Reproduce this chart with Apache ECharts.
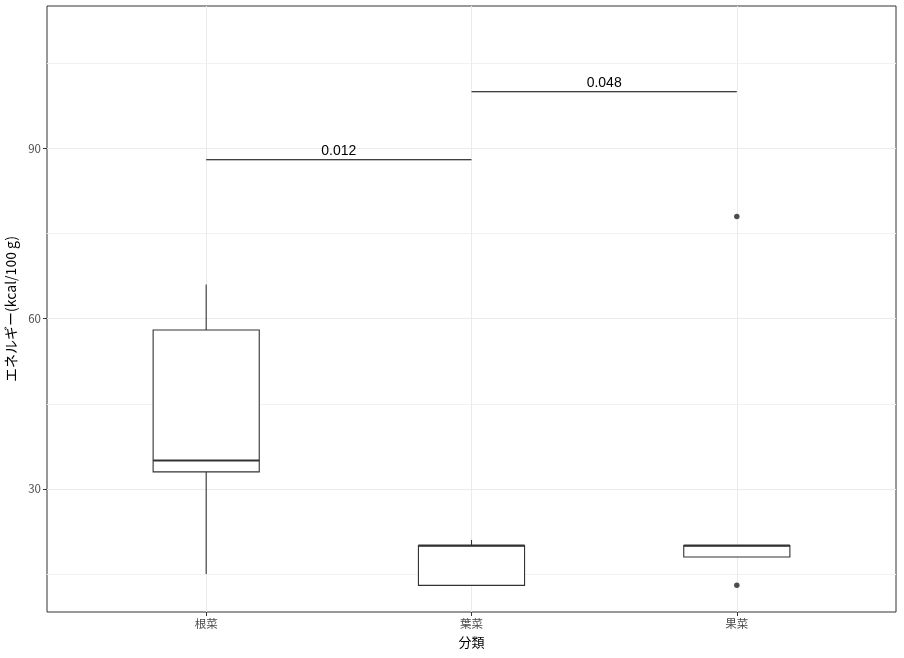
<!DOCTYPE html>
<html><head><meta charset="utf-8">
<script src="https://cdn.jsdelivr.net/npm/echarts@6/dist/echarts.min.js"></script>
<style>html,body{margin:0;padding:0;background:#fff}#c{width:904px;height:658px}</style>
</head><body><div id="c"></div>
<script>
// categories and box statistics
const categories = ['根菜', '葉菜', '果菜'];
const whiskerLow = [15, 13, 18];
const q1 = [33, 13, 18];
const median = [35, 20, 20];
const q3 = [58, 20, 20];
const whiskerHigh = [66, 21, 20];
// outliers [categoryIndex(1-based), value]
const outliers = [[3, 78], [3, 13]];
// significance brackets
const bracketFrom = [1, 2];
const bracketTo = [2, 3];
const bracketY = [88, 100];
const bracketLabel = ['0.012', '0.048'];
// ticks
const yMajorTicks = [30, 60, 90];
const yMinorTicks = [15, 45, 75, 105];
const xTicks = [1, 2, 3];

const boxData = categories.map((c, i) => [i + 1, whiskerLow[i], q1[i], median[i], q3[i], whiskerHigh[i]]);
const bracketData = bracketFrom.map((f, i) => [f, bracketTo[i], bracketY[i], bracketLabel[i]]);

const font = '"Noto Sans CJK JP", "Liberation Sans", sans-serif';
const chart = echarts.init(document.getElementById('c'), null, {renderer: 'canvas'});
const yMin = 8.3, yMax = 115.1;
chart.setOption({
  animation: false,
  grid: {left: 47, right: 8, top: 6, bottom: 46, containLabel: false, outerBoundsMode: 'none', show: true, borderColor: '#333333', borderWidth: 1, backgroundColor: '#fff'},
  xAxis: {
    type: 'value', min: 0.4, max: 3.6,
    name: '分類', nameLocation: 'middle', nameGap: 24,
    nameTextStyle: {color: '#000', fontSize: 13, fontFamily: font},
    axisLine: {show: false},
    axisTick: {show: true, length: 4, lineStyle: {color: '#333'}, customValues: xTicks},
    axisLabel: {show: true, customValues: xTicks, formatter: v => categories[Math.round(v) - 1] || '', color: '#4d4d4d', fontSize: 11.5, fontFamily: font, margin: 6},
    splitLine: {show: true, lineStyle: {color: '#ebebeb', width: 1}}
  },
  yAxis: [{
    type: 'value', min: yMin, max: yMax,
    name: 'エネルギー(kcal/100 g)', nameLocation: 'middle', nameGap: 26, nameRotate: 90,
    nameTextStyle: {color: '#000', fontSize: 14, fontFamily: font},
    axisLine: {show: false},
    axisTick: {show: true, length: 4, lineStyle: {color: '#333'}, customValues: yMajorTicks},
    axisLabel: {show: true, customValues: yMajorTicks, color: '#4d4d4d', fontSize: 11.5, fontFamily: font, margin: 6},
    splitLine: {show: true, lineStyle: {color: '#ebebeb', width: 1}}
  }, {
    type: 'value', min: yMin, max: yMax, position: 'left',
    axisLine: {show: false},
    axisTick: {show: false, customValues: yMinorTicks},
    axisLabel: {show: false, customValues: yMinorTicks},
    splitLine: {show: true, lineStyle: {color: '#f2f2f2', width: 1}}
  }],
  series: [{
    type: 'custom',
    data: boxData,
    z: 3,
    renderItem: function (params, api) {
      const x = api.value(0);
      const hw = 0.2;
      const pL = api.coord([x - hw, api.value(2)]);
      const pR = api.coord([x + hw, api.value(4)]);
      const lo = api.coord([x, api.value(1)]);
      const b1 = api.coord([x, api.value(2)]);
      const b3 = api.coord([x, api.value(4)]);
      const hi = api.coord([x, api.value(5)]);
      const mdL = api.coord([x - hw, api.value(3)]);
      const mdR = api.coord([x + hw, api.value(3)]);
      const st = {stroke: '#333333', lineWidth: 1.1, fill: null};
      return {type: 'group', children: [
        {type: 'line', shape: {x1: b3[0], y1: b3[1], x2: hi[0], y2: hi[1]}, style: st},
        {type: 'line', shape: {x1: b1[0], y1: b1[1], x2: lo[0], y2: lo[1]}, style: st},
        {type: 'rect', shape: {x: pL[0], y: pR[1], width: pR[0] - pL[0], height: pL[1] - pR[1]}, style: {stroke: '#333333', lineWidth: 1.1, fill: '#fff'}},
        {type: 'line', shape: {x1: mdL[0], y1: mdL[1], x2: mdR[0], y2: mdR[1]}, style: {stroke: '#333333', lineWidth: 2.2}}
      ]};
    }
  }, {
    type: 'scatter',
    data: outliers,
    symbolSize: 5.5,
    itemStyle: {color: '#222222'},
    z: 4
  }, {
    type: 'custom',
    data: bracketData,
    z: 5,
    renderItem: function (params, api) {
      const a = api.coord([api.value(0), api.value(2)]);
      const b = api.coord([api.value(1), api.value(2)]);
      return {type: 'group', children: [
        {type: 'line', shape: {x1: a[0], y1: a[1], x2: b[0], y2: b[1]}, style: {stroke: '#000', lineWidth: 1.1}},
        {type: 'text', x: (a[0] + b[0]) / 2, y: a[1] - 2, style: {text: bracketLabel[params.dataIndex], fill: '#000', font: '14px "Liberation Sans", Arial, sans-serif', align: 'center', verticalAlign: 'bottom'}}
      ]};
    }
  }]
});
</script></body></html>
